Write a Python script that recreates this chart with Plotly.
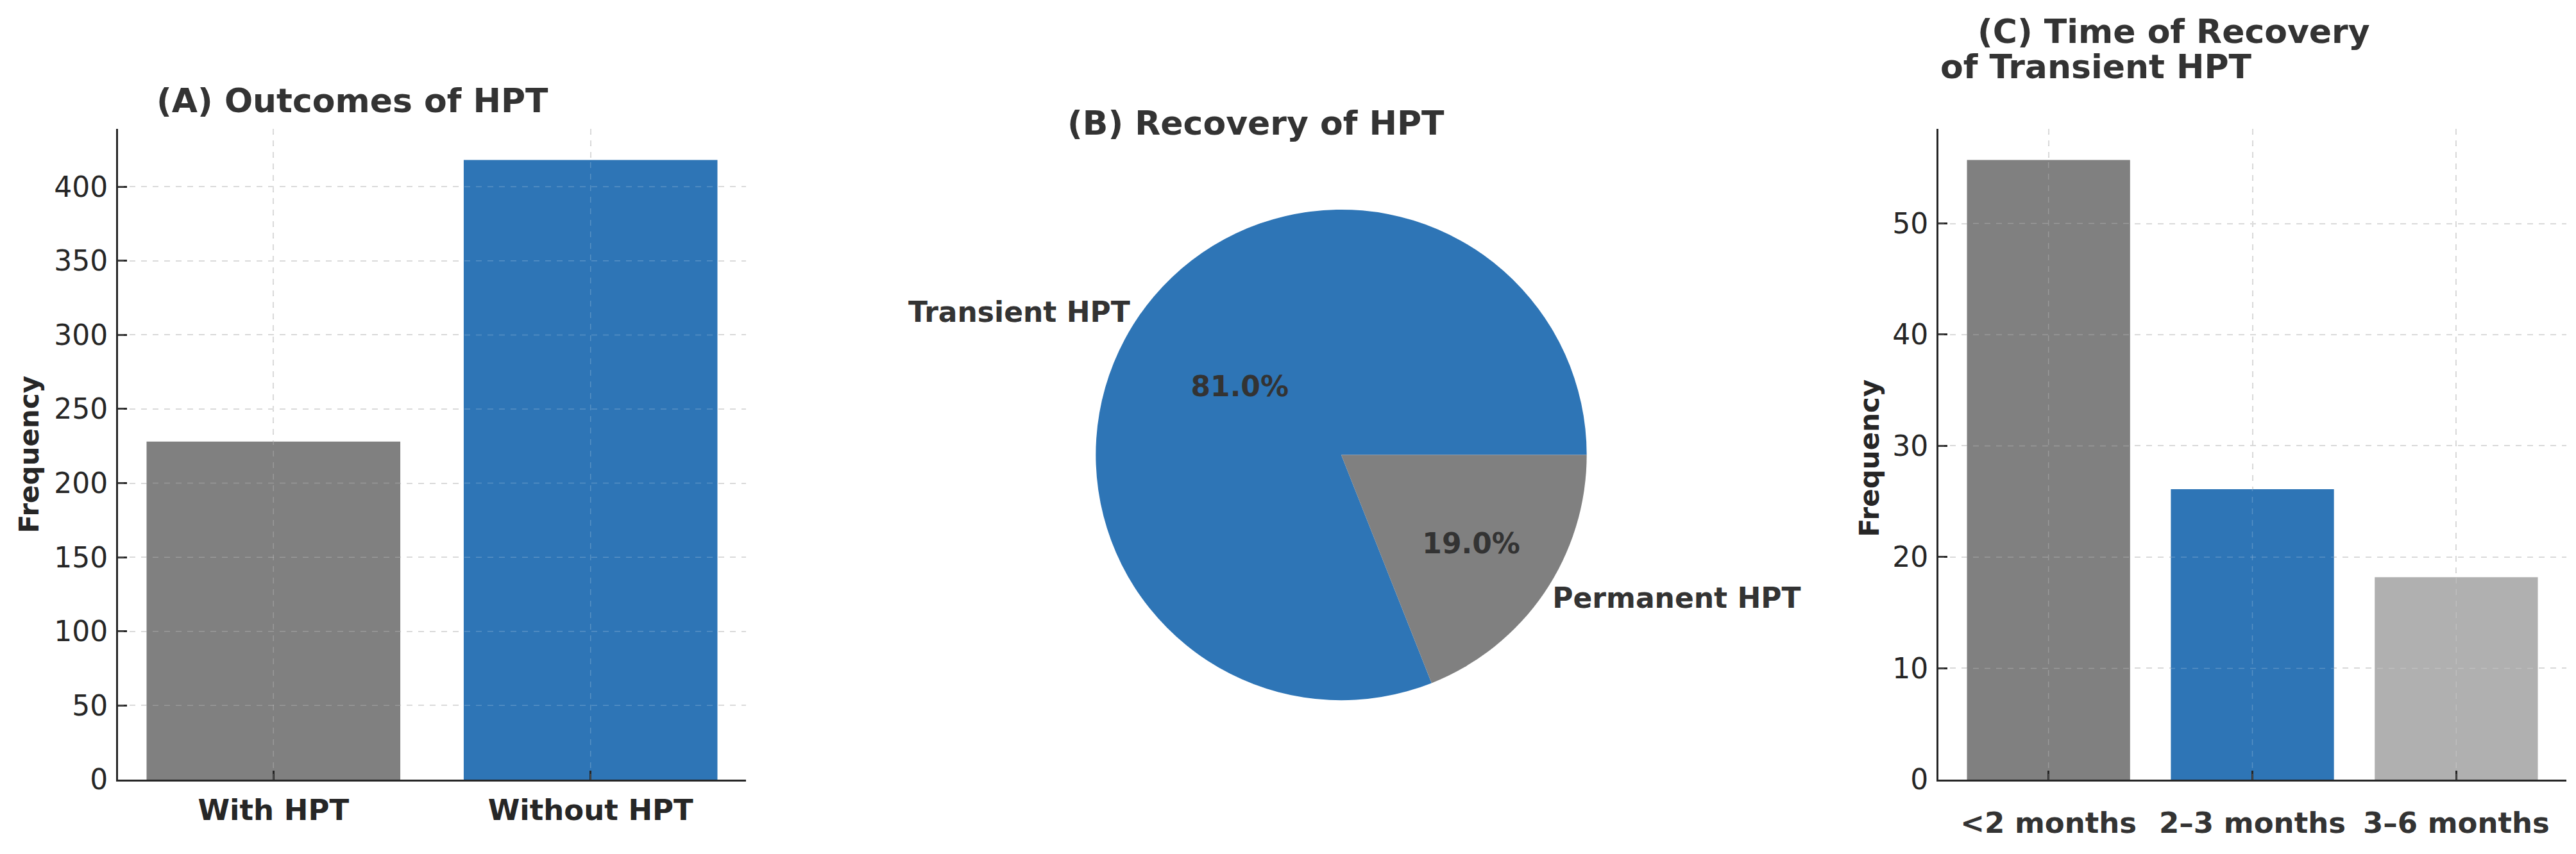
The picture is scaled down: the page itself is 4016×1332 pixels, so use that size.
import plotly.graph_objects as go

W, H = 4016, 1332

# ---------------- data ----------------
outcome_labels = ["With HPT", "Without HPT"]
outcome_values = [228, 418]
outcome_colors = ["#808080", "#2E75B6"]

recovery_labels = ["Transient HPT", "Permanent HPT"]
recovery_values = [81.0, 19.0]
recovery_colors = ["#2E75B6", "#808080"]

time_labels = ["<2 months", "2\u20133 months", "3\u20136 months"]
time_values = [55.7, 26.1, 18.2]
time_colors = ["#808080", "#2E75B6", "#B0B0B0"]

ticks_a = [0, 50, 100, 150, 200, 250, 300, 350, 400]
ticks_c = [0, 10, 20, 30, 40, 50]

# ---------------- layout helpers ----------------
def px_x(x):
    return x / W

def px_y(y):
    return 1 - y / H

FONT = "DejaVu Sans"
DARK = "#262626"
TITLE_C = "#333333"

# matplotlib-style pie: first slice starts at 3 o'clock, going counterclockwise.
# Plotly lays the first slice clockwise from `rotation`, so start it where
# the counterclockwise sweep would end.
pie_total = sum(recovery_values)
pie_rotation = 90 + 360 * (pie_total - recovery_values[0]) / pie_total

fig = go.Figure()

fig.add_trace(go.Bar(
    x=outcome_labels, y=outcome_values, marker_color=outcome_colors,
    marker_line_width=0, xaxis="x", yaxis="y", showlegend=False,
))

pie_domain = dict(x=[px_x(1693), px_x(2473)], y=[px_y(1105), px_y(325)])

fig.add_trace(go.Pie(
    labels=recovery_labels, values=recovery_values,
    marker=dict(colors=recovery_colors, line=dict(width=0)),
    sort=False, direction="clockwise", rotation=pie_rotation,
    textposition="inside", texttemplate="%{percent:.1%}",
    insidetextfont=dict(family=FONT, size=44, color=TITLE_C, weight="bold"),
    insidetextorientation="horizontal",
    domain=pie_domain,
    showlegend=False, hoverinfo="label+percent",
))
fig.add_trace(go.Pie(
    labels=recovery_labels, values=recovery_values,
    marker=dict(colors=["rgba(0,0,0,0)", "rgba(0,0,0,0)"], line=dict(width=0)),
    sort=False, direction="clockwise", rotation=pie_rotation,
    textposition="outside", texttemplate="%{label}",
    outsidetextfont=dict(family=FONT, size=44, color=TITLE_C, weight="bold"),
    domain=pie_domain,
    showlegend=False, hoverinfo="skip",
))

fig.add_trace(go.Bar(
    x=time_labels, y=time_values, marker_color=time_colors,
    marker_line_width=0, xaxis="x2", yaxis="y2", showlegend=False,
))

axis_common = dict(
    showline=True, linecolor=DARK, linewidth=3,
    ticks="inside", ticklen=14, tickwidth=2.5, tickcolor=DARK,
    showgrid=True, gridcolor="#d4d4d4", gridwidth=1.5, griddash="dash",
    zeroline=False, fixedrange=True,
)

ydom = [px_y(1231), px_y(197)]

fig.update_layout(
    width=W, height=H,
    margin=dict(l=0, r=0, t=0, b=0),
    paper_bgcolor="white", plot_bgcolor="white",
    font=dict(family=FONT, color=DARK),
    bargap=0.2,
    xaxis=dict(axis_common, domain=[px_x(176), px_x(1155)], anchor="y",
               range=[-0.49, 1.49],
               tickfont=dict(family=FONT, size=45, color=DARK, weight="bold"),
               ticklabelstandoff=6),
    yaxis=dict(axis_common, domain=ydom, anchor="x",
               range=[0, 418 * 1.05], tickvals=ticks_a,
               tickfont=dict(family=FONT, size=44, color=DARK),
               ticklabelstandoff=4),
    xaxis2=dict(axis_common, domain=[px_x(3014), px_x(3993)], anchor="y2",
                range=[-0.54, 2.54],
                tickfont=dict(family=FONT, size=45, color=TITLE_C, weight="bold"),
                ticklabelstandoff=26),
    yaxis2=dict(axis_common, domain=ydom, anchor="x2",
                range=[0, 55.7 * 1.05], tickvals=ticks_c,
                tickfont=dict(family=FONT, size=44, color=DARK),
                ticklabelstandoff=4),
)

# grid drawn over the bars too (as in the reference), faint
over_grid = dict(color="rgba(255,255,255,0.2)", width=1.5, dash="dash")
for xr, yr, cats, ticks in (("x", "y", outcome_labels, ticks_a),
                            ("x2", "y2", time_labels, ticks_c)):
    for t in ticks[1:]:
        fig.add_shape(type="line", layer="above", xref=f"{xr} domain", yref=yr,
                      x0=0, x1=1, y0=t, y1=t, line=over_grid)
    for c in cats:
        fig.add_shape(type="line", layer="above", xref=xr, yref=f"{yr} domain",
                      x0=c, x1=c, y0=0, y1=1, line=over_grid)

title_font = dict(family=FONT, size=52, color=TITLE_C, weight="bold")
ann = [
    dict(text="(A) Outcomes of HPT", x=px_x(234), y=px_y(152), xanchor="left"),
    dict(text="(B) Recovery of HPT", x=px_x(1654), y=px_y(188), xanchor="left"),
    dict(text="(C) Time of Recovery", x=px_x(3073), y=px_y(42), xanchor="left"),
    dict(text="of Transient HPT", x=px_x(3015), y=px_y(98), xanchor="left"),
]
for a in ann:
    fig.add_annotation(xref="paper", yref="paper", yanchor="middle",
                       showarrow=False, font=title_font, **a)

ylab_font = dict(family=FONT, size=42, color=DARK, weight="bold")
fig.add_annotation(text="Frequency", x=px_x(38), y=px_y(714), xref="paper", yref="paper",
                   textangle=-90, showarrow=False, font=ylab_font,
                   xanchor="center", yanchor="middle")
fig.add_annotation(text="Frequency", x=px_x(2906), y=px_y(720), xref="paper", yref="paper",
                   textangle=-90, showarrow=False, font=ylab_font,
                   xanchor="center", yanchor="middle")

fig.write_html("out.html")
